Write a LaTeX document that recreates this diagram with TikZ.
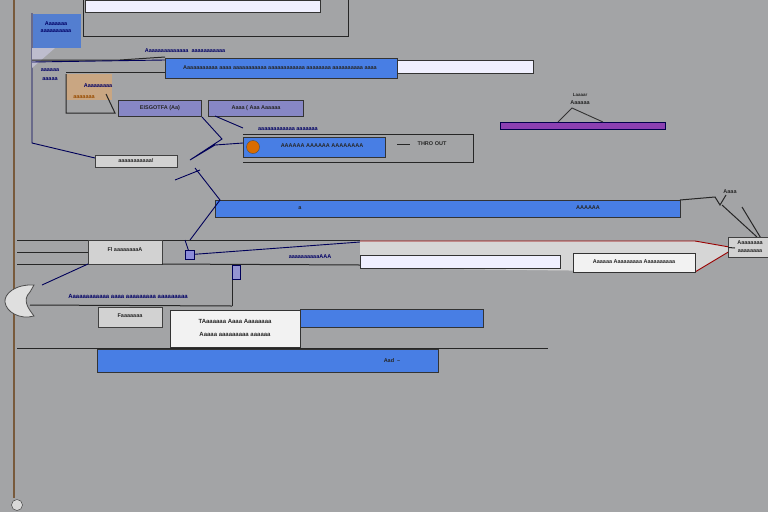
\documentclass[tikz,border=0pt]{standalone}
\usepackage{fontspec}
\setmainfont{Liberation Sans}
\definecolor{barblue}{RGB}{72,126,228}
\definecolor{bgray}{RGB}{163,164,166}
\begin{document}
\begin{tikzpicture}[x=1pt,y=-1pt,
  bluebar/.style={draw=black!80,line width=1pt,fill=barblue,inner sep=0pt,anchor=north west},
  lightbar/.style={draw=black!80,line width=1pt,fill=blue!6!white,inner sep=0pt,anchor=north west},
  graybox/.style={draw=black!75,line width=0.9pt,fill=gray!35,inner sep=0pt,anchor=north west},
  txt/.style={font=\fontsize{5.5}{6}\selectfont\bfseries,text=black!85,inner sep=0pt},
  btxt/.style={font=\fontsize{5.5}{6}\selectfont\bfseries,text=blue!40!black,inner sep=0pt},
  conn/.style={draw=blue!35!black,line width=0.9pt},
  dline/.style={draw=black!85,line width=1pt}]
\useasboundingbox (0,0) rectangle (768,512);
\fill[bgray] (0,0) rectangle (768,512);
% left vertical
\draw[line width=1.4pt,color={rgb,255:red,120;green,90;blue,60}] (14,0) -- (14,498);
\node[draw=black!80,fill=gray!30,circle,minimum size=11pt,inner sep=0pt] (foot) at (17,505) {};
% top frame
\node[lightbar,minimum width=235pt,minimum height=12pt] (top) at (85,0) {};
\draw[dline] (83,0) -- (83,36) -- (348,36) -- (348,0);
% top-left blue tag
\node[bluebar,draw=none,fill=barblue!80!gray,minimum width=48pt,minimum height=34pt] (tag) at (32,13) {};
\node[btxt] (tagt) at (56,24) {Aaaaaaa};
\node[btxt] (tagt2) at (56,31) {aaaaaaaaaa};
\draw[conn] (32,13) -- (32,143) -- (95,158);
\fill[blue!15!gray!45] (32,48) -- (55,48) -- (32,68) -- cycle;
% upper title line
\node[btxt] (ttl) at (185,51) {Aaaaaaaaaaaaaa\ \ aaaaaaaaaaa};
\draw[dline] (32,60) -- (120,60) -- (165,57);
\draw[conn] (32,62) -- (165,60);
\node[bluebar,minimum width=232pt,minimum height=20pt] (b1) at (165,58) {};
\node[txt] (b1t) at (280,68) {Aaaaaaaaaaa aaaa aaaaaaaaaaa aaaaaaaaaaaa aaaaaaaa aaaaaaaaaa aaaa};
\node[lightbar,minimum width=136pt,minimum height=13pt] (b1l) at (397,60) {};
\node[btxt] (sm1) at (50,70) {aaaaaa};
\node[btxt] (sm2) at (50,79) {aaaaa};
\fill[orange!40!gray!70] (66,74) rectangle (112,100);
\draw[dline] (66,74) -- (66,113) -- (115,113) -- (106,94);
\draw[dline] (66,72) -- (165,72);
\node[txt,text=orange!60!black] (sal) at (84,97) {aaaaaaa};
\node[btxt] (sal2) at (98,86) {Aaaaaaaaa};
% box row 2
\node[bluebar,fill=blue!35!gray!70,minimum width=83pt,minimum height=16pt] (b2a) at (118,100) {};
\node[txt] (b2at) at (160,108) {EISGOTFA (Aa)};
\node[bluebar,fill=blue!35!gray!70,minimum width=95pt,minimum height=16pt] (b2b) at (208,100) {};
\node[txt] (b2bt) at (256,108) {Aaaa ( Aaa Aaaaaa};
\draw[conn] (b2a.south east) -- ++(20,22) -- (190,160) -- (215,145) -- (243,143);
\draw[conn] (215,116) -- (243,128);
% THRO OUT box
\node[btxt] (lbl3) at (288,129) {aaaaaaaaaaaa\ aaaaaaa};
\draw[dline] (243,134) -- (473,134) -- (473,162) -- (243,162);
\node[bluebar,minimum width=142pt,minimum height=20pt] (b3) at (243,137) {};
\node[circle,draw=black!70,fill=orange!85!black,minimum size=13pt,inner sep=0pt] (dot) at (253,147) {};
\node[txt] (b3t) at (322,146) {AAAAAA AAAAAA AAAAAAAA};
\node[txt] (thro) at (432,144) {THRO OUT};
\draw[dline] (397,144) -- (410,144);
% small box
\node[graybox,minimum width=82pt,minimum height=12pt] (sb) at (95,155) {};
\node[txt] (sbt) at (136,161) {aaaaaaaaaaa!};
% purple bar
\node[draw=blue!30!black,line width=1pt,fill=violet!80!blue!75!white,minimum width=165pt,minimum height=7pt,inner sep=0pt,anchor=north west] (pb) at (500,122) {};
\node[txt,font=\fontsize{4.5}{5}\selectfont\bfseries] (pl1) at (580,95) {Laaaar};
\node[txt] (pl2) at (580,103) {Aaaaaa};
\draw[conn,draw=black!80] (pb.north west)++(58,0) -- (572,108) -- (603,122);
% long blue bar
\node[bluebar,minimum width=465pt,minimum height=17pt] (b4) at (215,200) {};
\node[txt] (b4a) at (300,208) {a};
\node[txt] (b4b) at (588,208) {AAAAAA};
\draw[conn] (195,168) -- (220,200) -- (190,240);
\draw[conn] (175,180) -- (200,170);
\node[txt] (dan) at (730,192) {Aaaa};
\draw[dline] (680,200) -- (715,197) -- (720,205) -- (726,195);
\draw[dline] (722,205) -- (757,237);
\draw[dline] (742,207) -- (762,240);
% middle band
\draw[dline] (17,240) -- (360,240);
\node[graybox,minimum width=74pt,minimum height=24pt] (fl1) at (88,240) {};
\node[txt] (fl1t) at (125,250) {Fl aaaaaaaaA};
\draw[dline] (17,252) -- (88,252);
\draw[dline] (88,264) -- (17,264);
\draw[dline] (162,264) -- (360,265);
\draw[conn] (185,255) -- (360,242);
\node[btxt] (mt) at (310,257) {aaaaaaaaaaAAA};
\node[draw=blue!35!black,fill=blue!50!gray!60,minimum size=9pt,inner sep=0pt] (sq) at (190,255) {};
\draw[conn] (185,240) -- (sq);
% red arrow band
\fill[gray!15!white!80!gray] (360,241) -- (695,241) -- (735,248) -- (695,272) -- (360,268) -- cycle;
\draw[line width=0.9pt,red!60!black] (360,241) -- (695,241) -- (735,248);
\draw[line width=0.9pt,red!60!black] (360,268) -- (560,268);
\draw[line width=0.9pt,red!60!black] (695,272) -- (735,248);
\node[lightbar,minimum width=200pt,minimum height=13pt] (wb) at (360,255) {};
\node[lightbar,fill=white!90!gray,minimum width=122pt,minimum height=19pt] (lb) at (573,253) {};
\node[txt] (lbt) at (634,262) {Aaaaaa Aaaaaaaaa Aaaaaaaaaa};
\node[graybox,minimum width=40pt,minimum height=20pt] (rb) at (728,237) {};
\node[txt] (rbt1) at (750,243) {Aaaaaaaa};
\node[txt] (rbt2) at (750,251) {aaaaaaaa};
\draw[dline] (rb.west) -- (735,248);
% left leaf
\draw[draw=black!70,line width=0.8pt,fill=gray!25] (34,285) .. controls (15,284) and (4,294) .. (5,302) .. controls (6,312) and (20,320) .. (34,316) .. controls (28,308) and (22,300) .. (30,292) -- cycle;
\draw[conn] (42,285) -- (88,264);
\node[btxt,font=\fontsize{6}{7}\selectfont\bfseries] (bl) at (128,296) {Aaaaaaaaaaaa aaaa aaaaaaaaa aaaaaaaaa};
\draw[dline] (30,305) -- (232,306);
\draw[dline] (232,265) -- (232,306);
\node[draw=blue!35!black,fill=blue!40!gray!60,minimum width=8pt,minimum height=14pt,inner sep=0pt] (vs) at (236,272) {};
% lower boxes
\node[graybox,minimum width=64pt,minimum height=20pt] (fl2) at (98,307) {};
\node[txt] (fl2t) at (130,316) {Faaaaaaa};
\node[bluebar,minimum width=183pt,minimum height=18pt] (b5) at (300,309) {};
\node[lightbar,fill=gray!10,minimum width=130pt,minimum height=37pt] (wb2) at (170,310) {};
\node[txt,font=\fontsize{6}{7}\selectfont\bfseries] (wb2t1) at (235,321) {TAaaaaaa Aaaa Aaaaaaaa};
\node[txt,font=\fontsize{6}{7}\selectfont\bfseries] (wb2t2) at (235,334) {Aaaaa aaaaaaaaa aaaaaa};
\draw[dline] (17,348) -- (548,348);
\node[bluebar,minimum width=341pt,minimum height=23pt] (b6) at (97,349) {};
\node[txt] (b6t) at (392,361) {Aad\ \ --};
\end{tikzpicture}
\end{document}
